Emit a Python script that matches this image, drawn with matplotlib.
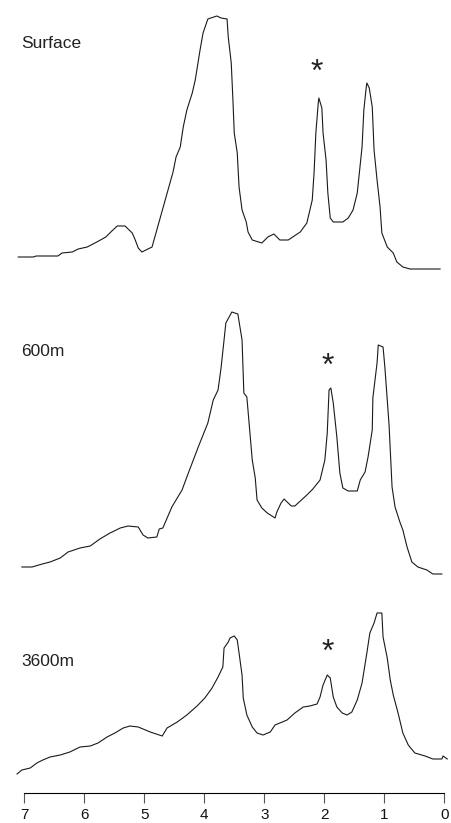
import numpy as np
import matplotlib
matplotlib.use('Agg')
import matplotlib.pyplot as plt

plt.rcParams['font.family'] = ['Liberation Sans', 'DejaVu Sans']

# chemical shift (ppm) and intensity (arbitrary units)
surface_ppm = [7.10, 6.85, 6.80, 6.44, 6.37, 6.20, 6.10, 5.95, 5.79, 5.64, 5.54, 5.45, 5.32,
               5.20, 5.15, 5.10, 5.04, 4.87, 4.52, 4.47, 4.40, 4.35, 4.29, 4.20, 4.15, 4.07,
               4.02, 3.94, 3.79, 3.72, 3.62, 3.60, 3.55, 3.52, 3.50, 3.45, 3.42, 3.37, 3.30,
               3.27, 3.20, 3.04, 2.94, 2.84, 2.74, 2.60, 2.40, 2.29, 2.20, 2.17, 2.14, 2.10,
               2.09, 2.04, 2.02, 1.97, 1.94, 1.90, 1.85, 1.69, 1.60, 1.52, 1.45, 1.37, 1.34,
               1.30, 1.29, 1.25, 1.20, 1.17, 1.12, 1.07, 1.04, 0.95, 0.85, 0.79, 0.69, 0.57, 0.07]
surface_int = [13, 13, 14, 14, 17, 18, 21, 23, 28, 33, 39, 44, 44,
               37, 30, 22, 18, 23, 98, 113, 123, 143, 160, 177, 190, 220,
               237, 251, 254, 252, 251, 233, 207, 167, 137, 117, 83, 60, 48,
               38, 30, 27, 33, 36, 30, 30, 38, 47, 70, 97, 137, 167,
               172, 162, 137, 110, 77, 52, 48, 48, 52, 60, 77, 123, 160,
               183, 187, 182, 163, 120, 90, 63, 37, 23, 17, 8, 3, 1, 1]

m600_ppm = [7.04, 6.87, 6.70, 6.57, 6.40, 6.27, 6.07, 5.90, 5.74, 5.57, 5.40, 5.27, 5.10,
            5.02, 4.94, 4.79, 4.75, 4.69, 4.54, 4.37, 4.29, 4.10, 3.94, 3.85, 3.77, 3.72,
            3.67, 3.64, 3.54, 3.44, 3.37, 3.34, 3.29, 3.24, 3.20, 3.15, 3.12, 3.04, 2.95,
            2.82, 2.79, 2.72, 2.67, 2.55, 2.49, 2.29, 2.19, 2.07, 1.99, 1.95, 1.92, 1.89,
            1.85, 1.79, 1.74, 1.69, 1.60, 1.45, 1.40, 1.32, 1.27, 1.20, 1.19, 1.12, 1.10,
            1.02, 0.99, 0.95, 0.92, 0.87, 0.82, 0.74, 0.69, 0.62, 0.54, 0.44, 0.29, 0.19, 0.04]
m600_int = [8, 8, 11, 13, 17, 23, 27, 29, 36, 42, 47, 49, 48,
            40, 37, 38, 46, 47, 68, 85, 98, 128, 152, 175, 185, 207,
            235, 252, 263, 261, 235, 182, 178, 143, 115, 97, 75, 67, 62,
            57, 63, 72, 76, 69, 69, 80, 86, 95, 115, 142, 185, 187,
            172, 138, 102, 87, 84, 84, 95, 103, 118, 145, 177, 212, 230,
            228, 208, 175, 150, 88, 68, 53, 45, 28, 13, 8, 5, 1, 1]

m3600_ppm = [7.12, 7.04, 6.90, 6.79, 6.69, 6.57, 6.40, 6.24, 6.07, 5.90, 5.77, 5.62, 5.49,
             5.35, 5.24, 5.10, 4.90, 4.70, 4.62, 4.45, 4.29, 4.12, 3.99, 3.87, 3.77, 3.69,
             3.67, 3.60, 3.57, 3.50, 3.45, 3.42, 3.37, 3.35, 3.29, 3.20, 3.12, 3.02, 2.90,
             2.82, 2.62, 2.49, 2.35, 2.24, 2.12, 2.07, 2.02, 1.95, 1.90, 1.85, 1.79, 1.70,
             1.62, 1.54, 1.45, 1.37, 1.29, 1.24, 1.17, 1.12, 1.04, 1.02, 0.95, 0.90, 0.85,
             0.77, 0.69, 0.60, 0.49, 0.32, 0.19, 0.04, 0.02, -0.05]
m3600_int = [1, 5, 7, 12, 15, 18, 20, 23, 28, 29, 32, 38, 42,
             47, 49, 48, 43, 39, 47, 53, 60, 69, 77, 87, 98, 108,
             127, 133, 137, 139, 135, 122, 100, 77, 60, 48, 42, 40, 43,
             50, 55, 62, 68, 69, 71, 78, 90, 100, 97, 78, 68, 62,
             60, 63, 75, 92, 122, 142, 152, 162, 162, 138, 117, 95, 80,
             62, 42, 30, 22, 19, 16, 16, 19, 16]

labels = ['Surface', '600m', '3600m']
offsets = [523, 218, 18]
label_y = [226, 223, 114]
star_ppm = [2.12, 1.95, 1.95]
star_y = [197, 208, 122]

fig = plt.figure(figsize=(4.52, 8.23), dpi=100)
ax = fig.add_axes([0, 30 / 823, 1, 793 / 823])

spectra = [(surface_ppm, surface_int), (m600_ppm, m600_int), (m3600_ppm, m3600_int)]
for (ppm, inten), off, lab, ly, sx, sy in zip(spectra, offsets, labels, label_y, star_ppm, star_y):
    ax.plot(ppm, np.array(inten) + off, color='#1a1a1a', lw=0.8)
    ax.text(7.05, off + ly, lab, fontsize=12.5, color='#222222', va='center', ha='left')
    ax.text(sx, off + sy, '*', fontsize=23, color='#222222', ha='center', va='center')

ax.set_xlim(7.404, -0.129)
ax.set_ylim(0, 793)
ax.set_xticks(range(8))
ax.tick_params(axis='x', direction='out', length=7, width=0.8, color='#555555',
               labelsize=11, pad=3.5, labelcolor='#111111')
ax.set_yticks([])
for s in ['left', 'right', 'top']:
    ax.spines[s].set_visible(False)
ax.spines['bottom'].set_bounds(0, 7)
ax.spines['bottom'].set_linewidth(0.8)

plt.savefig('out.png', dpi=100)
